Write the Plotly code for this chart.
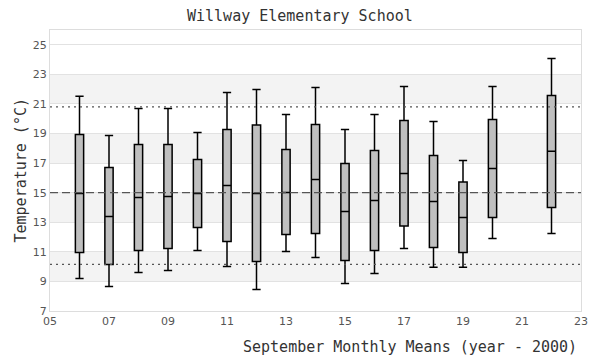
import plotly.graph_objects as go

years = [6, 7, 8, 9, 10, 11, 12, 13, 14, 15, 16, 17, 18, 19, 20, 22]
whisker_low = [9.2, 8.66, 9.61, 9.74, 11.09, 10.01, 8.46, 11.03, 10.62, 8.86, 9.54, 11.23, 9.95, 9.95, 11.91, 12.24]
q1 = [10.96, 10.15, 11.09, 11.23, 12.65, 11.70, 10.35, 12.18, 12.24, 10.42, 11.09, 12.74, 11.30, 10.96, 13.32, 14.0]
median = [14.95, 13.39, 14.68, 14.74, 14.95, 15.49, 14.95, 15.01, 15.89, 13.73, 14.47, 16.30, 14.41, 13.32, 16.64, 17.80]
q3 = [18.93, 16.70, 18.26, 18.26, 17.24, 19.27, 19.57, 17.92, 19.61, 16.97, 17.85, 19.88, 17.51, 15.73, 19.95, 21.57]
whisker_high = [21.52, 18.86, 20.69, 20.69, 19.07, 21.77, 21.97, 20.28, 22.11, 19.27, 20.28, 22.18, 19.81, 17.18, 22.18, 24.07]

x_range = [5, 23]
x_ticks = [5, 7, 9, 11, 13, 15, 17, 19, 21, 23]
x_ticktext = ["05", "07", "09", "11", "13", "15", "17", "19", "21", "23"]
y_ticks = [7, 9, 11, 13, 15, 17, 19, 21, 23, 25]
bands = [(9, 11), (13, 15), (17, 19), (21, 23)]
mean_line = 15.0
upper_line = 20.8
lower_line = 10.15

fig = go.Figure()
for v, d in [(upper_line, "2px,4px"), (lower_line, "2px,4px"), (mean_line, "8px,4px")]:
    fig.add_trace(go.Scatter(x=x_range, y=[v, v], mode="lines",
                             line=dict(color="#555555", width=1.2, dash=d),
                             showlegend=False, hoverinfo="skip", cliponaxis=True))
fig.add_trace(go.Box(
    x=years, q1=q1, median=median, q3=q3,
    lowerfence=whisker_low, upperfence=whisker_high,
    fillcolor="#bfbfbf", line=dict(color="black", width=1.5),
    whiskerwidth=1, width=0.28, boxpoints=False, showlegend=False,
    hoverinfo="skip",
))

shapes = []
for lo, hi in bands:
    shapes.append(dict(type="rect", xref="paper", yref="y", x0=0, x1=1, y0=lo, y1=hi,
                       fillcolor="#f3f3f3", line=dict(width=0), layer="below"))

mono = "DejaVu Sans Mono, Liberation Mono, monospace"
fig.update_layout(
    width=592, height=352,
    margin=dict(l=42, r=19, t=22, b=49),
    paper_bgcolor="white", plot_bgcolor="white",
    shapes=shapes,
    annotations=[
        dict(text="Willway Elementary School", xref="paper", yref="paper", x=0.5, y=1,
             xshift=-16, yshift=14, xanchor="center", yanchor="middle", showarrow=False,
             font=dict(family=mono, size=15, color="#333333")),
        dict(text="September Monthly Means (year - 2000)", xref="paper", yref="paper", x=1,
             y=0, xshift=-2, yshift=-36, xanchor="right", yanchor="middle", showarrow=False,
             font=dict(family=mono, size=15, color="#333333")),
        dict(text="Temperature (°C)", xref="paper", yref="paper", x=0, y=0.5,
             xshift=-30, xanchor="center", yanchor="middle", textangle=-90, showarrow=False,
             font=dict(family=mono, size=15, color="#333333")),
    ],
    xaxis=dict(range=x_range, tickvals=x_ticks, ticktext=x_ticktext, showgrid=False,
               zeroline=False, showline=True, mirror=True, linecolor="#dddddd", linewidth=1,
               ticks="", tickfont=dict(family="DejaVu Sans", size=11, color="#555555")),
    yaxis=dict(range=[7, 26], tickvals=y_ticks, showgrid=True, gridcolor="#e2e2e2",
               zeroline=False, showline=True, mirror=True, linecolor="#dddddd", linewidth=1,
               ticks="", tickfont=dict(family="DejaVu Sans", size=11, color="#555555")),
)

fig.write_html("out.html")
